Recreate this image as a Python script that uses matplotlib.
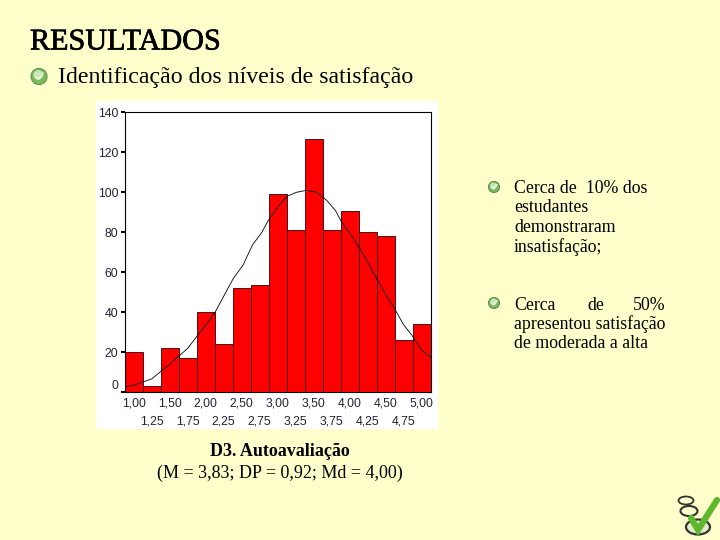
import matplotlib
matplotlib.use("Agg")
import matplotlib.pyplot as plt
import matplotlib.patheffects as pe
from matplotlib.patches import Circle, Ellipse, Rectangle

bin_centers = [1.00, 1.25, 1.50, 1.75, 2.00, 2.25, 2.50, 2.75, 3.00, 3.25, 3.50, 3.75, 4.00, 4.25, 4.50, 4.75, 5.00]
counts = [20, 3, 22, 17, 40, 24, 52, 53.5, 99, 81, 126.5, 81, 90.5, 80, 78, 26, 34]
curve_x = [0.875, 1.00, 1.25, 1.50, 1.75, 2.00, 2.13, 2.26, 2.38, 2.52, 2.65, 2.78, 2.87, 3.01, 3.13, 3.26, 3.40,
           3.54, 3.68, 3.80, 3.89, 4.03, 4.19, 4.33, 4.49, 4.62, 4.75, 4.86, 5.00, 5.125]
curve_y = [2.7, 3.5, 6.7, 14, 22, 33.7, 40, 48.7, 56.7, 63.7, 73.7, 80, 86, 93, 98, 100, 101,
           100, 96, 91, 85, 78, 69, 59.5, 49.5, 42, 33.7, 28.7, 21, 17.5]
y_ticks = [0, 20, 40, 60, 80, 100, 120, 140]
x_upper = [1.00, 1.50, 2.00, 2.50, 3.00, 3.50, 4.00, 4.50, 5.00]
x_lower = [1.25, 1.75, 2.25, 2.75, 3.25, 3.75, 4.25, 4.75]
title = "RESULTADOS"
subtitle = "Identificação dos níveis de satisfação"
caption = ["D3. Autoavaliação", "(M = 3,83; DP = 0,92; Md = 4,00)"]

BG = "#FFFFCC"
SERIF = "Liberation Serif"
SANS = "Liberation Sans"
W, H = 720, 540

fig = plt.figure(figsize=(W / 100, H / 100), dpi=100, facecolor=BG)
page = fig.add_axes([0, 0, 1, 1])
page.set_xlim(0, W)
page.set_ylim(H, 0)
page.axis("off")

page.add_patch(Rectangle((96, 101), 342, 328, fc="white", ec="none"))


def bullet(cx, cy, r):
    page.add_patch(Circle((cx, cy), r, fc="#7DBB5A", ec="#5E8F55", lw=0.8))
    page.add_patch(Circle((cx - r * 0.1, cy - r * 0.2), r * 0.6, fc="#C9E6B5", ec="none"))
    page.plot([cx - r * 0.45, cx - r * 0.05, cx + r * 0.55], [cy, cy + r * 0.35, cy - r * 0.45],
              color="#EEF7E8", lw=1.0, solid_capstyle="round")


page.text(30, 42.5, title, family=SERIF, fontsize=21.7, color="black", va="center", ha="left",
          path_effects=[pe.withStroke(linewidth=0.5, foreground="black")])
bullet(39, 76.5, 8)
page.text(58, 78, subtitle, family=SERIF, fontsize=17.2, color="black", va="center", ha="left")


def words(items, y):
    for x, w in items:
        page.text(x, y, w, family=SERIF, fontsize=12.8, color="black", va="center", ha="left")


bullet(494, 187, 5.5)
words([(514, "Cerca de  10% dos")], 188.5)
words([(514, "estudantes")], 208)
words([(514, "demonstraram")], 227.5)
words([(514, "insatisfação;")], 247)
bullet(494, 303, 5.5)
words([(514, "Cerca"), (587, "de"), (633, "50%")], 305)
words([(514, "apresentou satisfação")], 324.5)
words([(514, "de moderada a alta")], 344)

page.text(279.5, 452, caption[0], family=SERIF, fontsize=13, weight="bold", color="black", ha="center", va="center")
page.text(279.5, 473, caption[1], family=SERIF, fontsize=13, color="black", ha="center", va="center")

# corner icon
page.add_patch(Ellipse((686, 500.5), 15, 8, fc="none", ec="#333333", lw=1.3))
page.add_patch(Ellipse((689, 511), 17, 10, fc="none", ec="#333333", lw=1.5))
page.add_patch(Ellipse((698, 527), 24, 15, fc="#E4EDCB", ec="#333333", lw=1.6))
page.plot([691, 698, 717], [518, 530, 500], color="#5DB82E", lw=4.5, solid_capstyle="round", solid_joinstyle="miter")

# chart axes: plot box in pixels
x0, x1, ytop, ybot = 124.7, 430.7, 112.3, 392.3
ax = fig.add_axes([x0 / W, 1 - ybot / H, (x1 - x0) / W, (ybot - ytop) / H], facecolor="white")
ax.bar(bin_centers, counts, width=0.25, color="#FE0000", edgecolor="#300000", linewidth=0.6)
ax.plot(curve_x, curve_y, color="black", lw=0.6)
ax.set_xlim(0.875, 5.125)
ax.set_ylim(0, 140)
for s in ax.spines.values():
    s.set_linewidth(0.8)
    s.set_color("black")
ax.set_yticks(y_ticks)
ax.set_yticklabels([str(v) for v in y_ticks], family=SANS, fontsize=8.8, color="#222233")
ax.get_yticklabels()[0].set_verticalalignment("bottom")
ax.tick_params(axis="y", length=3, width=1.4, pad=1.5, direction="out")
ax.set_xticks(x_upper)
ax.set_xticklabels([f"{v:.2f}".replace(".", ",") for v in x_upper], family=SANS, fontsize=8.8, color="#222233")
ax.set_xticks(x_lower, minor=True)
ax.set_xticklabels([f"{v:.2f}".replace(".", ",") for v in x_lower], minor=True, family=SANS, fontsize=8.8, color="#222233")
ax.tick_params(axis="x", which="major", length=0, pad=4)
ax.tick_params(axis="x", which="minor", length=0, pad=17)

fig.savefig("out.png", dpi=100, facecolor=BG)
